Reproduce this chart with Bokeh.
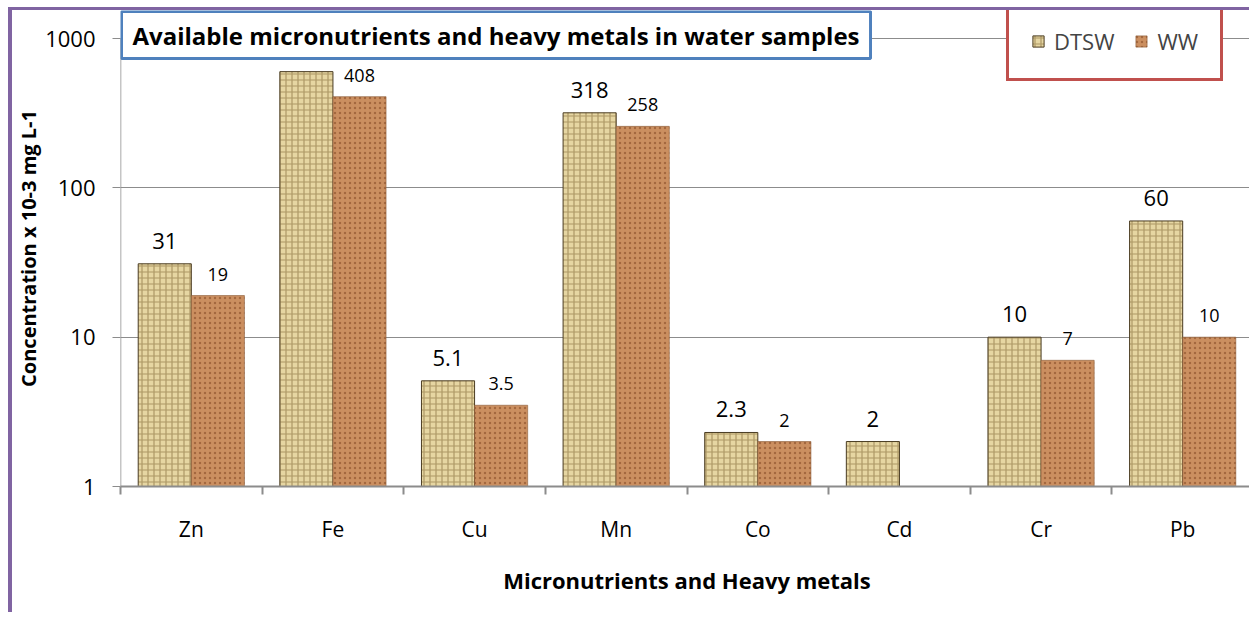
import numpy as np
from bokeh.plotting import figure
from bokeh.models import (ColumnDataSource, LabelSet, Label, Legend, LegendItem,
                          FixedTicker, BasicTickFormatter)
from bokeh.core.properties import value
from bokeh.embed import file_html
from bokeh.resources import INLINE

# ---------------- data ----------------
categories = ["Zn", "Fe", "Cu", "Mn", "Co", "Cd", "Cr", "Pb"]
dtsw = [31, 600, 5.1, 318, 2.3, 2, 10, 60]
ww = [19, 408, 3.5, 258, 2, None, 7, 10]
y_ticks = [1, 10, 100, 1000]
series_names = ["DTSW", "WW"]
title_text = "Available micronutrients and heavy metals in water samples"
x_label = "Micronutrients and Heavy metals"
y_label = "Concentration x 10-3 mg L-1"

FONT = "Open Sans"
bar_w = 0.375
n = len(categories)

src_d = ColumnDataSource(dict(
    x=[i + 0.5 - bar_w / 2 for i in range(n)],
    top=dtsw,
    lab=[f"{v:g}" for v in dtsw],
))
ww_idx = [i for i, v in enumerate(ww) if v is not None]
src_w = ColumnDataSource(dict(
    x=[i + 0.5 + bar_w / 2 for i in ww_idx],
    top=[ww[i] for i in ww_idx],
    lab=[f"{ww[i]:g}" for i in ww_idx],
))

# layout (pixels)
W, H = 1241, 605
BL, BB = 107, 129
GAP_TOP = 28                       # space between the canvas top and the top tick
FH = H - BB                        # frame height (frame reaches the canvas top)
decades = np.log10(y_ticks[-1] / y_ticks[0])
px_per_dec = (FH - GAP_TOP) / decades
y_end = y_ticks[-1] * 10 ** (GAP_TOP / px_per_dec)

p = figure(width=W, height=H, y_axis_type="log",
           x_range=(0, n), y_range=(y_ticks[0], y_end),
           output_backend="svg", toolbar_location=None,
           min_border_left=BL, min_border_right=0,
           min_border_top=0, min_border_bottom=BB)
p.styles = {"border-left": "4px solid #8064A2", "border-top": "3px solid #8064A2",
            "margin-left": "8px", "margin-top": "7px"}
p.outline_line_color = None
p.background_fill_color = "white"
p.border_fill_color = "white"

# bars
r_d = p.vbar(x="x", top="top", bottom=y_ticks[0], width=bar_w, source=src_d,
             fill_color="#E6D6A2", line_color="#4A3C22", line_width=1,
             hatch_pattern="cross", hatch_color="#9A8350", hatch_alpha=0.75,
             hatch_scale=6, hatch_weight=1.2)
r_w = p.vbar(x="x", top="top", bottom=y_ticks[0], width=bar_w, source=src_w,
             fill_color="#CB8F60", line_color="#8A5A38", line_width=0.6,
             hatch_pattern="dot", hatch_color="#9A5E36", hatch_alpha=0.8,
             hatch_scale=5, hatch_weight=1.3)

# y axis line only from the lowest to the highest tick
p.segment(x0=0, y0=y_ticks[0], x1=0, y1=y_ticks[-1], line_color="#8C8C8C",
          line_width=1.5)

# axes
p.xaxis.ticker = FixedTicker(ticks=[i + 0.5 for i in range(n)],
                             minor_ticks=list(range(n + 1)))
p.xaxis.major_label_overrides = {i + 0.5: c for i, c in enumerate(categories)}
p.xaxis.major_tick_out = 0
p.xaxis.major_tick_in = 0
p.xaxis.minor_tick_out = 8
p.xaxis.minor_tick_in = 0
p.xaxis.minor_tick_line_color = "#8C8C8C"
p.xaxis.minor_tick_line_width = 2
p.xaxis.axis_line_color = "#8C8C8C"
p.xaxis.axis_line_width = 2
p.xaxis.major_label_standoff = 20
p.xaxis.major_label_text_font = FONT
p.xaxis.major_label_text_font_size = "21px"
p.xaxis.major_label_text_color = "black"
p.xaxis.axis_label = x_label
p.xaxis.axis_label_text_font = FONT
p.xaxis.axis_label_text_font_style = "bold"
p.xaxis.axis_label_text_font_size = "22px"
p.xaxis.axis_label_text_color = "black"
p.xaxis.axis_label_standoff = 19

p.yaxis.ticker = FixedTicker(ticks=y_ticks, minor_ticks=[])
p.yaxis.formatter = BasicTickFormatter(use_scientific=False)
p.yaxis.major_tick_out = 8
p.yaxis.major_tick_in = 0
p.yaxis.major_tick_line_color = "#8C8C8C"
p.yaxis.axis_line_color = None
p.yaxis.major_label_standoff = 17
p.yaxis.major_label_text_font = FONT
p.yaxis.major_label_text_font_size = "22px"
p.yaxis.major_label_text_color = "black"
p.yaxis.axis_label = y_label
p.yaxis.axis_label_text_font = FONT
p.yaxis.axis_label_text_font_style = "bold"
p.yaxis.axis_label_text_font_size = "20px"
p.yaxis.axis_label_text_color = "black"
p.yaxis.axis_label_standoff = 0

p.xgrid.visible = False
p.ygrid.ticker = FixedTicker(ticks=y_ticks[1:], minor_ticks=[])
p.ygrid.grid_line_color = "#8C8C8C"
p.ygrid.grid_line_width = 1

# data labels
p.add_layout(LabelSet(x="x", y="top", text="lab", source=src_d, y_offset=15,
                      text_align="center", text_baseline="alphabetic",
                      text_font=value(FONT), text_font_size="22px",
                      text_color="black"))
p.add_layout(LabelSet(x="x", y="top", text="lab", source=src_w, y_offset=15,
                      text_align="center", text_baseline="alphabetic",
                      text_font=value(FONT), text_font_size="18px",
                      text_color="black"))

# title box
p.add_layout(Label(x=1, y=FH - 1, x_units="screen", y_units="screen",
                   text=title_text, anchor="top_left",
                   text_font=FONT, text_font_style="bold", text_font_size="24px",
                   text_color="black", background_fill_color="white",
                   border_line_color="#4F81BD", border_line_width=3,
                   padding=(11, 7)))

# legend
legend = Legend(items=[LegendItem(label=series_names[0], renderers=[r_d]),
                       LegendItem(label=series_names[1], renderers=[r_w])],
                orientation="horizontal", location=(886, FH - 2 - 69),
                border_line_color="#C0504D", border_line_width=3,
                border_line_alpha=1.0,
                background_fill_color="white", background_fill_alpha=1,
                padding=22, spacing=20, margin=0,
                glyph_width=14, glyph_height=14, label_standoff=9,
                label_text_font=FONT, label_text_font_size="22px",
                label_height=24)
p.add_layout(legend)

open("out.html", "w").write(file_html(p, INLINE))
